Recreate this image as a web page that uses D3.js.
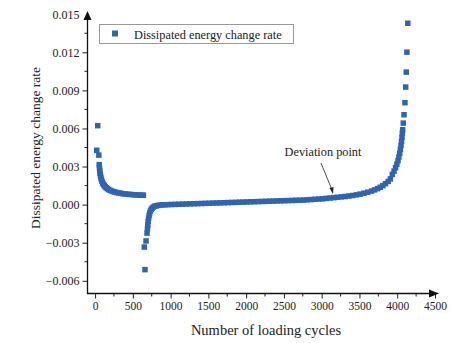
<!DOCTYPE html>
<html>
<head>
<meta charset="utf-8">
<script src="https://cdn.jsdelivr.net/npm/d3@7"></script>
<style>
  html, body { margin: 0; padding: 0; background: #fff; }
  svg { display: block; font-family: "Liberation Serif", "Times New Roman", serif; }
</style>
</head>
<body>
<svg id="chart" width="452" height="343"></svg>
<script>
// ---- data ----
const seriesName = "Dissipated energy change rate";
const xTitle = "Number of loading cycles";
const yTitle = "Dissipated energy change rate";
const annotationText = "Deviation point";
const annotationCycle = 3150;
const annotationRate = 0.00060;

const xTicks = [0, 500, 1000, 1500, 2000, 2500, 3000, 3500, 4000, 4500];
const yTicks = [-0.006, -0.003, 0.000, 0.003, 0.006, 0.009, 0.012, 0.015];

// early (decaying) stage
const cycles1 = [22, 35, 50, 55, 58, 62, 66, 71, 77, 84, 92, 101, 111, 122, 134, 148, 163, 180, 198, 218,
  240, 263, 288, 314, 342, 371, 401, 432, 464, 497, 530, 563, 596, 628, 640];
const rates1 = [0.00428, 0.00622, 0.00390, 0.00315, 0.00290, 0.00268, 0.00248, 0.00230, 0.00213, 0.00198,
  0.00184, 0.00171, 0.00160, 0.00150, 0.00141, 0.00133, 0.00126, 0.00119, 0.00113, 0.00108,
  0.00103, 0.00099, 0.00095, 0.00092, 0.00089, 0.00086, 0.00084, 0.00082, 0.00080, 0.00079,
  0.00077, 0.00076, 0.00075, 0.00074, 0.00074];

// stable and accelerating stage
const cycles2 = [652, 661, 675, 688, 694, 698, 703, 709, 716, 724, 733, 744, 757, 772, 790, 810, 833, 860, 890, 925,
  965, 1010, 1060, 1110, 1160, 1210, 1260, 1310, 1360, 1410, 1460, 1510, 1560, 1610, 1660, 1710, 1760, 1810, 1860, 1910,
  1960, 2010, 2060, 2110, 2160, 2210, 2260, 2310, 2360, 2410, 2460, 2510, 2560, 2610, 2660, 2710, 2760, 2810, 2860, 2910,
  2960, 3010, 3060, 3110, 3160, 3210, 3260, 3310, 3360, 3410, 3460, 3510, 3560, 3610, 3660, 3700, 3740, 3775, 3810, 3845,
  3880, 3910, 3935, 3958, 3978, 3995, 4010, 4022, 4033, 4042, 4050, 4057, 4063, 4068, 4072,
  4080, 4090, 4102, 4112, 4120, 4128, 4140];
const rates2 = [-0.00334, -0.00512, -0.00286, -0.00224, -0.00190, -0.00160, -0.00132, -0.00107, -0.00085, -0.00066,
  -0.00050, -0.00037, -0.00027, -0.00019, -0.00013, -0.00009, -0.00006, -0.00004, -0.00002, -0.00001,
  0.00000, 0.00001, 0.00002, 0.00003, 0.00004, 0.00005, 0.00006, 0.00007, 0.00008, 0.00009,
  0.00010, 0.00011, 0.00012, 0.00013, 0.00014, 0.00015, 0.00016, 0.00017, 0.00018, 0.00019,
  0.00020, 0.00021, 0.00022, 0.00023, 0.00024, 0.00025, 0.00026, 0.00027, 0.00028, 0.00029,
  0.00030, 0.00031, 0.00032, 0.00033, 0.00034, 0.00035, 0.00036, 0.00038, 0.00040, 0.00042,
  0.00044, 0.00046, 0.00049, 0.00052, 0.00055, 0.00058, 0.00061, 0.00064, 0.00068, 0.00072,
  0.00077, 0.00083, 0.00090, 0.00098, 0.00107, 0.00116, 0.00126, 0.00137, 0.00150, 0.00165,
  0.00183, 0.00203, 0.00238, 0.00264, 0.00291, 0.00318, 0.00346, 0.00375, 0.00405, 0.00435,
  0.00466, 0.00498, 0.00530, 0.00562, 0.00590,
  0.00642, 0.00708, 0.00803, 0.00926, 0.01044, 0.01201, 0.01429];

const cycles = cycles1.concat(cycles2);
const rates = rates1.concat(rates2);
const points = cycles.map((c, i) => ({ c, r: rates[i] }));

// ---- drawing ----
const svg = d3.select("#chart");
const color = "#2e64b5";
const ink = "#222";

const x = d3.scaleLinear().domain([-100, 4500]).range([87.5, 435]);
const y = d3.scaleLinear().domain([-0.007, 0.015]).range([293.5, 14.2]);

const fmtY = v => (v < 0 ? "\u2212" : "") + Math.abs(v).toFixed(3);

// x axis
const xAxis = d3.axisBottom(x).tickValues(xTicks).tickSize(5).tickSizeOuter(0).tickPadding(3).tickFormat(d3.format("d"));
const gx = svg.append("g").attr("transform", "translate(0,293.5)").call(xAxis);
gx.select(".domain").remove();
gx.selectAll("text").attr("font-size", "11.5px").attr("fill", ink).attr("font-family", "Liberation Serif, serif");
gx.selectAll("line").attr("stroke", ink);
const xMinor = d3.range(250, 4500, 500);
gx.selectAll(".minor").data(xMinor).enter().append("line")
  .attr("x1", d => x(d)).attr("x2", d => x(d)).attr("y1", 0).attr("y2", 3).attr("stroke", ink);

// y axis
const yAxis = d3.axisLeft(y).tickValues(yTicks).tickSize(5).tickSizeOuter(0).tickPadding(3).tickFormat(fmtY);
const gy = svg.append("g").attr("transform", "translate(87.5,0)").call(yAxis);
gy.select(".domain").remove();
gy.selectAll("text").attr("font-size", "12px").attr("fill", ink).attr("font-family", "Liberation Serif, serif");
gy.selectAll("line").attr("stroke", ink);
const yMinor = d3.range(-0.0045, 0.015, 0.003);
gy.selectAll(".minor").data(yMinor).enter().append("line")
  .attr("x1", -3).attr("x2", 0).attr("y1", d => y(d)).attr("y2", d => y(d)).attr("stroke", ink);
gy.selectAll(".tick").filter(d => d === 0.015).select("line").remove();

// axis lines with arrows
svg.append("line").attr("x1", 87.5).attr("x2", 87.5).attr("y1", 294).attr("y2", 18).attr("stroke", "#111").attr("stroke-width", 1.3);
svg.append("path").attr("d", `M${87.5},${11} L${83.5},${20} L${91.5},${20} Z`).attr("fill", "#111");
svg.append("line").attr("x1", 87).attr("x2", 432).attr("y1", 293.5).attr("y2", 293.5).attr("stroke", "#111").attr("stroke-width", 1.3);
svg.append("path").attr("d", `M${439},${293.5} L${429},${289.5} L${429},${297.5} Z`).attr("fill", "#111");

// points
const s = 5.5;
svg.append("g").selectAll("rect").data(points).enter().append("rect")
  .attr("x", d => x(d.c) - s / 2).attr("y", d => y(d.r) - s / 2)
  .attr("width", s).attr("height", s).attr("fill", color);

// axis titles
svg.append("text").attr("x", 266).attr("y", 335).attr("text-anchor", "middle")
  .attr("font-size", "14.5px").attr("fill", ink).text(xTitle);
svg.append("text").attr("transform", "translate(39.5,148) rotate(-90)").attr("text-anchor", "middle")
  .attr("font-size", "13.5px").attr("fill", ink).text(yTitle);

// legend
svg.append("rect").attr("x", 99.5).attr("y", 24.5).attr("width", 194).attr("height", 19)
  .attr("fill", "#fff").attr("stroke", "#999").attr("stroke-width", 1);
svg.append("rect").attr("x", 112).attr("y", 30.5).attr("width", 6).attr("height", 6).attr("fill", color);
svg.append("text").attr("x", 134).attr("y", 38.5).attr("font-size", "12.3px").attr("fill", ink).text(seriesName);

// annotation
svg.append("text").attr("x", 323).attr("y", 156).attr("text-anchor", "middle")
  .attr("font-size", "12.3px").attr("fill", ink).text(annotationText);
const ax = x(annotationCycle), ay = y(annotationRate) - 3;
svg.append("line").attr("x1", 321).attr("y1", 163).attr("x2", ax - 1).attr("y2", ay - 4)
  .attr("stroke", ink).attr("stroke-width", 0.8);
svg.append("path").attr("d", `M${ax},${ay} L${ax - 3.5},${ay - 6} L${ax + 0.5},${ay - 7} Z`).attr("fill", ink);
</script>
</body>
</html>
